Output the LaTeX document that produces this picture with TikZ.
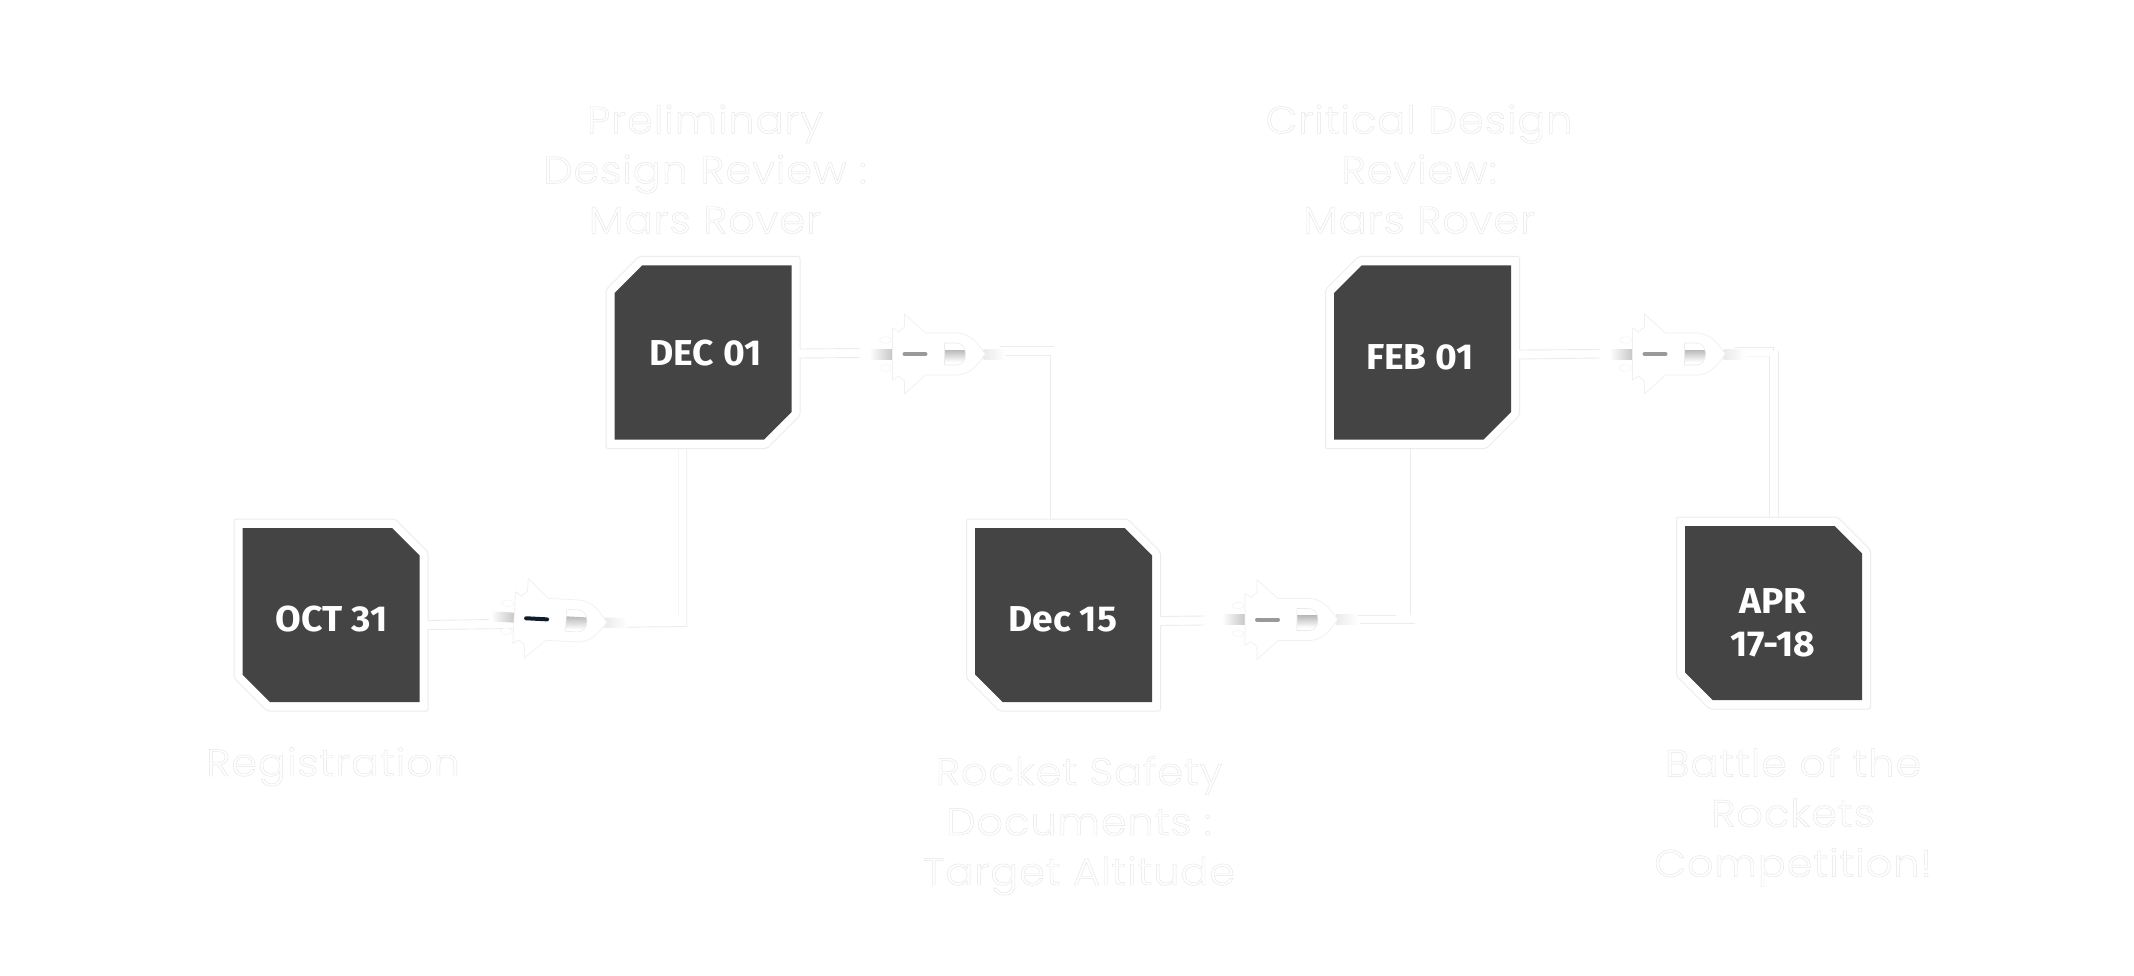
\documentclass[tikz,border=0pt]{standalone}
\usepackage{fontspec}
\usetikzlibrary{calc}
\newfontfamily\labfont[LetterSpace=2.5,FakeStretch=1.09]{Poppins Light}
\newfontfamily\datefont[FakeStretch=1.035]{Fira Sans Bold}
\definecolor{boxfill}{HTML}{444444}
\definecolor{faint}{HTML}{ECECEC}
\definecolor{fainter}{HTML}{F6F6F6}
\definecolor{dashdark}{HTML}{0E1C2A}
\definecolor{dashgray}{HTML}{999999}
\newcommand\outlon{\special{pdf:code 2 Tr 0.45 w 0.9 0.9 0.9 RG}}
\newcommand\outloff{\special{pdf:code 0 Tr}}
\newcommand\chamA[3]{\path[#1] (#2.north west) -- ($(#2.north east)+(-#3,0)$) -- ($(#2.north east)+(0,#3)$) -- (#2.south east) -- ($(#2.south west)+(#3,0)$) -- ($(#2.south west)+(0,-#3)$) -- cycle;}
\newcommand\chamB[3]{\path[#1] ($(#2.north west)+(#3,0)$) -- (#2.north east) -- ($(#2.south east)+(0,-#3)$) -- ($(#2.south east)+(-#3,0)$) -- (#2.south west) -- ($(#2.north west)+(0,#3)$) -- cycle;}
\tikzset{
  anchorbox/.style={rectangle,draw=none,fill=none,inner sep=0pt,outer sep=0pt,minimum width=177pt,minimum height=174pt},
  halobox/.style={rectangle,draw=none,fill=none,inner sep=0pt,outer sep=0pt,minimum width=194pt,minimum height=192pt},
  darkfill/.style={fill=boxfill},
  halofill/.style={fill=white,draw=faint,line width=1pt,rounded corners=2pt},
  datelab/.style={anchor=base,text=white,align=center,inner sep=0pt,font=\datefont\fontsize{36}{43}\selectfont},
  lab/.style={anchor=base,text=white,align=center,inner sep=0pt,font=\labfont\fontsize{38}{50}\selectfont},
  conncore/.style={draw=white,line width=8.4pt,line join=miter},
  connedge/.style={draw=faint,line width=.9pt},
  connfaint/.style={draw=fainter,line width=.9pt},
  pics/rocket/.style={code={
    \fill[white] (-118,-6) rectangle (-91,6);
    \shade[left color=white,right color=black!24] (-116,-5) rectangle (-91,5);
    \draw[fainter,fill=white,line width=.7pt] (-100,-14) ellipse (6 and 3.2);
    \draw[fainter,fill=white,line width=.7pt] (-100,14) ellipse (6 and 3.2);
    \shade[left color=black!8,right color=white] (-2,-5) rectangle (20,5);
    \draw[draw=black!6,fill=white,line width=.7pt,line join=round]
      (0,0) .. controls (-8,-10) and (-14,-21) .. (-30,-21) -- (-60,-21) -- (-81,-40) -- (-81,-27)
      -- (-87,-22) -- (-93,-26) -- (-93,26) -- (-87,22) -- (-81,27) -- (-81,40) -- (-60,21) -- (-30,21)
      .. controls (-14,21) and (-8,10) .. (0,0) -- cycle;
    \draw[#1,line width=4pt,line cap=round] (-81,0) -- (-60,0);
    \begin{scope}
      \path[clip] (-41,-11) -- (-29,-11) .. controls (-24,-11) and (-20,-7) .. (-20,0) .. controls (-20,7) and (-24,11) .. (-29,11) -- (-41,11) -- cycle;
      \fill[white] (-42,-12) rectangle (-19,12);
      \shade[top color=black!27,bottom color=white] (-42,-4) rectangle (-19,8);
    \end{scope}
    \draw[draw=black!8,line width=.6pt] (-41,-11) -- (-29,-11) .. controls (-24,-11) and (-20,-7) .. (-20,0) .. controls (-20,7) and (-24,11) .. (-29,11) -- (-41,11) -- cycle;
  }}
}
\begin{document}
\begin{tikzpicture}[x=1pt,y=-1pt]
\useasboundingbox (0,0) rectangle (2134,976);
\fill[white] (0,0) rectangle (2134,976);

% halos
\node[halobox] (h1) at (331,615) {};
\node[halobox] (h2) at (703,352.5) {};
\node[halobox] (h3) at (1063.5,615) {};
\node[halobox] (h4) at (1422.5,352.5) {};
\node[halobox] (h5) at (1773.5,613) {};
\chamA{halofill}{h1}{33}
\chamB{halofill}{h2}{33}
\chamA{halofill}{h3}{33}
\chamB{halofill}{h4}{33}
\chamA{halofill}{h5}{33}

% connector bends
\coordinate (k1) at (682.5,622);
\coordinate (k2) at (1055.5,350.5);
\coordinate (k3) at (1415.5,619);
\coordinate (k4) at (1774,351.5);

% connector bands
\draw[conncore] ([xshift=-1pt,yshift=-10pt]h1.east) -- (k1) -- ([yshift=-1pt]k1 |- h2.south);
\draw[conncore] ([xshift=-1pt,yshift=-1pt]h2.east) -- (k2) -- ([yshift=1pt]k2 |- h3.north);
\draw[conncore] ([xshift=-1pt,yshift=-6pt]h3.east) -- (k3) -- ([yshift=-1pt]k3 |- h4.south);
\draw[conncore] ([xshift=-1pt,yshift=-2pt]h4.east) -- (k4) -- ([yshift=1pt]k4 |- h5.north);

% connector edges
\draw[connedge] ([yshift=-14.5pt]h1.east) -- (686.7,626.5) -- (686.7,622 |- h2.south);
\draw[connedge] ([yshift=-5.5pt]h1.east) -- (490,619.5);
\draw[connfaint] (678,617) -- (678,622 |- h2.south);
\draw[connedge] ([yshift=-5.5pt]h2.east) -- (860,357.5);
\draw[connedge] (1000,355.5) -- (1050.7,355.5) -- (1050.7,350 |- h3.north);
\draw[connedge] ([yshift=3.5pt]h2.east) -- (860,348.5);
\draw[connedge] (1000,346.5) -- (1054,346.5);
\draw[connedge] ([yshift=-10.5pt]h3.east) -- (1205,625);
\draw[connedge] ([yshift=-1.5pt]h3.east) -- (1205,616);
\draw[connedge] (1345,615.5) -- (1396,615.5);
\draw[connedge] (1360,623.5) -- (1415,623.5);
\draw[connedge] (1410.7,615) -- (1410.7,619 |- h4.south);
\draw[connedge] ([yshift=-6.5pt]h4.east) -- (1600,358);
\draw[connedge] ([yshift=2.5pt]h4.east) -- (1600,349.5);
\draw[connedge] (1735,347) -- (1773,347) -- (1773,351);
\draw[connfaint] (1735,356) -- (1769.3,356);
\draw[connedge] (1769.3,356) -- (1769.3,351 |- h5.north);
\draw[connedge] (1778.3,351) -- (1778.3,351 |- h5.north);

% dark boxes
\node[anchorbox] (b1) at (331,615) {};
\node[anchorbox] (b2) at (703,352.5) {};
\node[anchorbox] (b3) at (1063.5,615) {};
\node[anchorbox] (b4) at (1422.5,352.5) {};
\node[anchorbox] (b5) at (1773.5,613) {};
\chamA{darkfill}{b1}{27.5}
\chamB{darkfill}{b2}{27.5}
\chamA{darkfill}{b3}{27.5}
\chamB{darkfill}{b4}{27.5}
\chamA{darkfill}{b5}{27.5}

% rockets
\pic[rotate=-3] (r1) at (607,622.5) {rocket=dashdark};
\pic (r2) at (985.5,354) {rocket=dashgray};
\pic (r3) at (1338,619.5) {rocket=dashgray};
\pic (r4) at (1725.5,354) {rocket=dashgray};

% dates
\node[datelab] (d1) at (331.7,631.7) {OCT 31};
\node[datelab] (d2) at (705.4,365) {DEC 01};
\node[datelab] (d3) at (1062.8,631.7) {Dec 15};
\node[datelab] (d4) at (1420,369) {FEB 01};
\node[datelab] (d5) at (1772.8,656.7) {APR\\17-18};

% captions
\node[lab] (t1) at (333,776) {\outlon Registration\outloff};
\node[lab] (t2) at (705,233.3) {\outlon Preliminary\\Design Review :\\Mars Rover\outloff};
\node[lab] (t3) at (1079,885) {\outlon Rocket Safety\\Documents :\\Target Altitude\outloff};
\node[lab] (t4) at (1419,233.3) {\outlon Critical Design\\Review:\\Mars Rover\outloff};
\node[lab] (t5) at (1793,876.7) {\outlon Battle of the\\Rockets\\Competition!\outloff};
\end{tikzpicture}
\end{document}
